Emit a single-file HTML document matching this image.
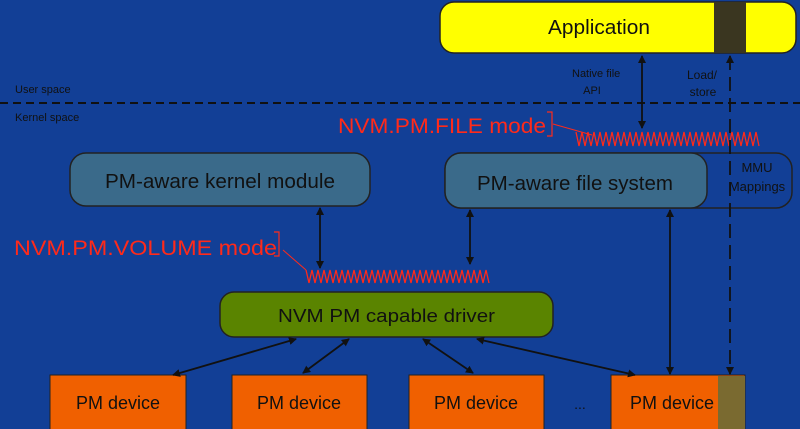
<!DOCTYPE html>
<html><head><meta charset="utf-8"><style>
body{margin:0;width:800px;height:429px;overflow:hidden;background:#123f96;font-family:"Liberation Sans",sans-serif}
</style></head><body>
<svg width="800" height="429" xmlns="http://www.w3.org/2000/svg" style="position:absolute;left:0;top:0">
<defs>
<marker id="a" markerWidth="8" markerHeight="8" refX="7" refY="4" orient="auto-start-reverse" markerUnits="userSpaceOnUse"><path d="M0,0 L8,4 L0,8 z" fill="#111"/></marker>
</defs>
<rect x="0" y="0" width="800" height="429" fill="#123f96"/>
<rect x="440" y="2" width="356" height="51" rx="14" fill="#ffff00" stroke="#222" stroke-width="1.5"/>
<rect x="714" y="2" width="32" height="51" fill="#3a3620"/>
<text x="548" y="34" font-size="20" textLength="102" lengthAdjust="spacingAndGlyphs" fill="#111">Application</text>
<text x="572" y="77" font-size="11" fill="#111">Native file</text>
<text x="592" y="94" font-size="11" text-anchor="middle" fill="#111">API</text>
<text x="702" y="79" font-size="12" text-anchor="middle" fill="#111">Load/</text>
<text x="703" y="96" font-size="12" text-anchor="middle" fill="#111">store</text>
<line x1="0" y1="103" x2="800" y2="103" stroke="#111" stroke-width="2" stroke-dasharray="8,5"/>
<text x="15" y="93" font-size="11" fill="#111">User space</text>
<text x="15" y="121" font-size="11" fill="#111">Kernel space</text>
<text x="338" y="133" font-size="21" textLength="208" lengthAdjust="spacingAndGlyphs" fill="#ff2a1a">NVM.PM.FILE mode</text>
<path d="M547,112 h5 v24 h-5" fill="none" stroke="#ff2a1a" stroke-width="1.2"/>
<line x1="553" y1="124" x2="592" y2="135" stroke="#ff2a1a" stroke-width="1"/>
<text x="14" y="255" font-size="21" textLength="263" lengthAdjust="spacingAndGlyphs" fill="#ff2a1a">NVM.PM.VOLUME mode</text>
<path d="M274,232 h5 v24 h-5" fill="none" stroke="#ff2a1a" stroke-width="1.2"/>
<line x1="283" y1="250" x2="306" y2="270" stroke="#ff2a1a" stroke-width="1"/>
<polyline fill="none" stroke="#ff2a1a" stroke-width="1.3" points="576,132 579,146 582,132 585,146 588,132 591,146 594,132 597,146 600,132 603,146 606,132 609,146 612,132 615,146 618,132 621,146 624,132 627,146 630,132 633,146 636,132 639,146 642,132 645,146 648,132 651,146 654,132 657,146 660,132 663,146 666,132 669,146 672,132 675,146 678,132 681,146 684,132 687,146 690,132 693,146 696,132 699,146 702,132 705,146 708,132 711,146 714,132 717,146 720,132 723,146 726,132 729,146 732,132 735,146 738,132 741,146 744,132 747,146 750,132 753,146 756,132 759,146"/>
<polyline fill="none" stroke="#ff2a1a" stroke-width="1.3" points="306,270 309,283 312,270 315,283 318,270 321,283 324,270 327,283 330,270 333,283 336,270 339,283 342,270 345,283 348,270 351,283 354,270 357,283 360,270 363,283 366,270 369,283 372,270 375,283 378,270 381,283 384,270 387,283 390,270 393,283 396,270 399,283 402,270 405,283 408,270 411,283 414,270 417,283 420,270 423,283 426,270 429,283 432,270 435,283 438,270 441,283 444,270 447,283 450,270 453,283 456,270 459,283 462,270 465,283 468,270 471,283 474,270 477,283 480,270 483,283 486,270 489,283"/>
<rect x="70" y="153" width="300" height="53" rx="16" fill="#3a6a8a" stroke="#222" stroke-width="1.5"/>
<text x="105" y="188" font-size="20" textLength="230" lengthAdjust="spacingAndGlyphs" fill="#111">PM-aware kernel module</text>
<rect x="445" y="153" width="347" height="55" rx="16" fill="none" stroke="#222" stroke-width="1.5"/>
<rect x="445" y="153" width="262" height="55" rx="16" fill="#3a6a8a" stroke="#222" stroke-width="1.5"/>
<text x="477" y="190" font-size="20" textLength="196" lengthAdjust="spacingAndGlyphs" fill="#111">PM-aware file system</text>
<text x="757" y="172" font-size="13" text-anchor="middle" fill="#111">MMU</text>
<text x="757" y="191" font-size="13" text-anchor="middle" fill="#111">Mappings</text>
<rect x="220" y="292" width="333" height="45" rx="14" fill="#5a8400" stroke="#222" stroke-width="1.5"/>
<text x="278" y="322" font-size="18" textLength="217" lengthAdjust="spacingAndGlyphs" fill="#111">NVM PM capable driver</text>
<g font-size="18" text-anchor="middle" fill="#111">
<rect x="50" y="375" width="136" height="56" fill="#f06000" stroke="#222"/><text x="118" y="409">PM device</text>
<rect x="232" y="375" width="135" height="56" fill="#f06000" stroke="#222"/><text x="299" y="409">PM device</text>
<rect x="409" y="375" width="135" height="56" fill="#f06000" stroke="#222"/><text x="476" y="409">PM device</text>
<rect x="611" y="375" width="134" height="56" fill="#f06000" stroke="#222"/>
<rect x="718" y="376" width="27" height="55" fill="#7a6a30"/>
<text x="672" y="409">PM device</text>
<text x="580" y="409" font-size="14">...</text>
</g>
<g stroke="#111" stroke-width="1.8" fill="none">
<line x1="642" y1="56" x2="642" y2="128" marker-start="url(#a)" marker-end="url(#a)"/>
<line x1="730" y1="56" x2="730" y2="374" stroke-dasharray="14,7" marker-start="url(#a)" marker-end="url(#a)"/>
<line x1="320" y1="208" x2="320" y2="268" marker-start="url(#a)" marker-end="url(#a)"/>
<line x1="470" y1="210" x2="470" y2="264" marker-start="url(#a)" marker-end="url(#a)"/>
<line x1="670" y1="210" x2="670" y2="374" marker-start="url(#a)" marker-end="url(#a)"/>
<line x1="296" y1="339" x2="173" y2="375" marker-start="url(#a)" marker-end="url(#a)"/>
<line x1="349" y1="339" x2="303" y2="373" marker-start="url(#a)" marker-end="url(#a)"/>
<line x1="423" y1="339" x2="473" y2="373" marker-start="url(#a)" marker-end="url(#a)"/>
<line x1="477" y1="339" x2="635" y2="375" marker-start="url(#a)" marker-end="url(#a)"/>
</g>
</svg>
</body></html>
